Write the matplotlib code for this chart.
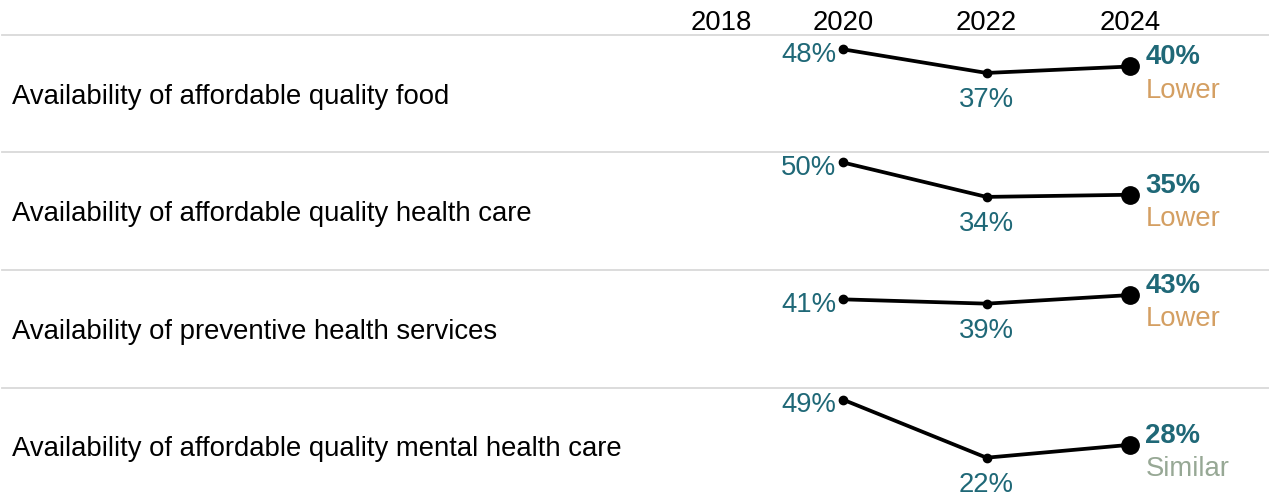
import matplotlib.pyplot as plt

plt.rcParams['font.family'] = ['Liberation Sans', 'DejaVu Sans']

# Data
items = [
    "Availability of affordable quality food",
    "Availability of affordable quality health care",
    "Availability of preventive health services",
    "Availability of affordable quality mental health care",
]
years = [2020, 2022, 2024]
v2020 = [48, 50, 41, 49]
v2022 = [37, 34, 39, 22]
v2024 = [40, 35, 43, 28]
status = ["Lower", "Lower", "Lower", "Similar"]
header_years = ["2018", "2020", "2022", "2024"]

# Styles
teal = "#1f6877"
status_colors = {"Lower": "#d49f62", "Similar": "#97a895"}
grid_grey = "#d9d9d9"
fs = 19.8

W, H = 1269, 499
top_px = 35.0
row_px = 117.5
px_per_year = 71.75
x0_px = 843  # pixel position of 2020
xlim = (2020 - x0_px / px_per_year, 2020 + (W - x0_px) / px_per_year)
ymax = 54.65

fig = plt.figure(figsize=(W / 100, H / 100), dpi=100)

# header with the years
hax = fig.add_axes([0, 1 - top_px / H, 1, top_px / H])
hax.set_xlim(*xlim)
hax.set_ylim(0, 1)
hax.axis("off")
header_x = [2018.31, 2020, 2022, 2024]
for x, lab in zip(header_x, header_years):
    hax.text(x, 0.33, lab, ha="center", va="center", fontsize=fs, color="black")

for i, name in enumerate(items):
    top = top_px + row_px * i
    ax = fig.add_axes([0, 1 - (top + row_px) / H, 1, row_px / H])
    ax.set_xlim(*xlim)
    ax.set_ylim(0, ymax)
    ax.axis("off")

    # separator line at the top of the row
    ax.axhline(ymax, xmin=2 / W, xmax=1, color=grid_grey, lw=1.3, clip_on=False)

    ax.text(12 / W, 0.5 - 3 / row_px, name, transform=ax.transAxes, ha="left",
            va="center", fontsize=fs, color="black")

    vals = [v2020[i], v2022[i], v2024[i]]
    ax.plot(years, vals, color="black", lw=2.7, solid_capstyle="round", zorder=2)
    ax.plot(years[:2], vals[:2], "o", color="black", ms=6, zorder=3)
    ax.plot(years[2], vals[2], "o", color="black", ms=12.5, zorder=3)

    # labels
    ax.annotate(f"{vals[0]}%", (years[0], vals[0]), xytext=(-5, -4),
                textcoords="offset points", ha="right", va="center",
                fontsize=fs, color=teal)
    ax.annotate(f"{vals[1]}%", (years[1], vals[1]), xytext=(0, -10),
                textcoords="offset points", ha="center", va="top",
                fontsize=fs, color=teal)
    ax.annotate(f"{vals[2]}%", (years[2], vals[2]), xytext=(11, 1.5),
                textcoords="offset points", ha="left", va="baseline",
                fontsize=fs, color=teal, fontweight="bold")
    ax.annotate(status[i], (years[2], vals[2]), xytext=(11, -8),
                textcoords="offset points", ha="left", va="top",
                fontsize=fs, color=status_colors[status[i]])

fig.savefig("out.png", dpi=100)
